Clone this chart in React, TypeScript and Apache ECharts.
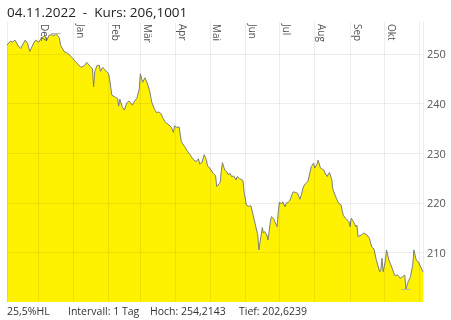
import React, { useEffect, useRef } from "react";
import * as echarts from "echarts";

const titleText = "04.11.2022  -  Kurs: 206,1001";
const footerTexts = ["25,5%HL", "Intervall: 1 Tag", "Hoch: 254,2143", "Tief: 202,6239"];
const monthNames = ["Jan", "Feb", "Mär", "Apr", "Mai", "Jun", "Jul", "Aug", "Sep", "Okt", "Nov", "Dez"];
const yTicks = [210, 220, 230, 240, 250];

const dates = [
  "2021-11-04", "2021-11-07", "2021-11-09", "2021-11-11", "2021-11-14", "2021-11-16", "2021-11-18", "2021-11-20",
  "2021-11-22", "2021-11-24", "2021-11-27", "2021-11-29", "2021-12-02", "2021-12-04", "2021-12-06", "2021-12-07",
  "2021-12-09", "2021-12-11", "2021-12-14", "2021-12-15", "2021-12-17", "2021-12-18", "2021-12-20", "2021-12-21",
  "2021-12-24", "2021-12-26", "2021-12-28", "2021-12-31", "2022-01-03", "2022-01-05", "2022-01-08", "2022-01-11",
  "2022-01-13", "2022-01-16", "2022-01-18", "2022-01-19", "2022-01-20", "2022-01-22", "2022-01-24", "2022-01-25",
  "2022-01-27", "2022-01-29", "2022-02-01", "2022-02-02", "2022-02-04", "2022-02-07", "2022-02-09", "2022-02-10",
  "2022-02-11", "2022-02-13", "2022-02-15", "2022-02-17", "2022-02-19", "2022-02-20", "2022-02-22", "2022-02-24",
  "2022-02-26", "2022-02-28", "2022-03-01", "2022-03-03", "2022-03-05", "2022-03-07", "2022-03-09", "2022-03-11",
  "2022-03-13", "2022-03-15", "2022-03-17", "2022-03-19", "2022-03-21", "2022-03-23", "2022-03-25", "2022-03-28",
  "2022-03-30", "2022-03-31", "2022-04-02", "2022-04-04", "2022-04-06", "2022-04-09", "2022-04-11", "2022-04-13",
  "2022-04-15", "2022-04-17", "2022-04-19", "2022-04-21", "2022-04-22", "2022-04-24", "2022-04-26", "2022-04-28",
  "2022-04-29", "2022-05-01", "2022-05-04", "2022-05-06", "2022-05-07", "2022-05-09", "2022-05-10", "2022-05-11",
  "2022-05-12", "2022-05-14", "2022-05-16", "2022-05-17", "2022-05-19", "2022-05-20", "2022-05-22", "2022-05-24",
  "2022-05-25", "2022-05-27", "2022-05-30", "2022-05-31", "2022-06-02", "2022-06-04", "2022-06-06", "2022-06-08",
  "2022-06-10", "2022-06-12", "2022-06-13", "2022-06-16", "2022-06-17", "2022-06-18", "2022-06-20", "2022-06-21",
  "2022-06-23", "2022-06-24", "2022-06-26", "2022-06-27", "2022-06-29", "2022-06-30", "2022-07-01", "2022-07-03",
  "2022-07-04", "2022-07-06", "2022-07-07", "2022-07-09", "2022-07-10", "2022-07-13", "2022-07-15", "2022-07-17",
  "2022-07-19", "2022-07-20", "2022-07-22", "2022-07-24", "2022-07-26", "2022-07-29", "2022-07-31", "2022-08-01",
  "2022-08-03", "2022-08-04", "2022-08-06", "2022-08-07", "2022-08-09", "2022-08-10", "2022-08-12", "2022-08-13",
  "2022-08-14", "2022-08-16", "2022-08-17", "2022-08-20", "2022-08-22", "2022-08-24", "2022-08-26", "2022-08-28",
  "2022-08-31", "2022-09-01", "2022-09-02", "2022-09-04", "2022-09-06", "2022-09-07", "2022-09-08", "2022-09-11",
  "2022-09-13", "2022-09-16", "2022-09-18", "2022-09-20", "2022-09-22", "2022-09-24", "2022-09-27", "2022-09-28",
  "2022-09-29", "2022-09-30", "2022-10-02", "2022-10-03", "2022-10-05", "2022-10-08", "2022-10-10", "2022-10-13",
  "2022-10-15", "2022-10-17", "2022-10-19", "2022-10-20", "2022-10-22", "2022-10-24", "2022-10-26", "2022-10-27",
  "2022-10-29", "2022-10-31", "2022-11-01", "2022-11-04"
];

const prices = [
  251.8, 252.6, 252.4, 252.8, 251.6, 251.1, 252.0, 252.8,
  252.2, 250.5, 252.0, 252.8, 252.4, 253.2, 253.5, 253.7,
  252.8, 253.8, 253.9, 253.6, 254.2143, 253.8, 253.2, 251.8,
  250.5, 250.3, 250.0, 249.3, 248.5, 248.0, 247.3, 247.7,
  248.3, 247.5, 247.0, 243.4, 246.4, 247.7, 247.7, 246.5,
  247.3, 246.8, 246.1, 245.0, 241.7, 241.3, 241.0, 239.5,
  240.9, 239.4, 238.7, 240.1, 240.5, 240.3, 239.7, 240.5,
  241.1, 242.9, 246.0, 244.3, 245.2, 244.2, 242.7, 240.3,
  239.1, 238.2, 238.3, 238.0, 237.0, 236.2, 235.9, 235.3,
  234.2, 235.5, 235.2, 235.3, 232.3, 231.3, 230.5, 229.9,
  229.2, 228.6, 228.3, 228.9, 227.8, 228.1, 229.7, 228.6,
  227.4, 227.0, 225.9, 225.5, 223.3, 223.8, 224.1, 226.3,
  228.1, 226.6, 226.2, 225.7, 225.9, 225.3, 225.4, 224.6,
  225.3, 224.9, 224.5, 222.2, 219.6, 219.3, 219.4, 217.5,
  215.5, 213.5, 210.5, 215.0, 213.9, 214.2, 213.5, 212.5,
  216.1, 217.2, 216.8, 216.2, 215.2, 218.2, 220.1, 219.8,
  220.2, 219.2, 219.9, 220.2, 220.4, 222.2, 222.1, 221.9,
  220.7, 221.4, 223.2, 223.9, 224.3, 227.3, 228.0, 227.0,
  227.8, 228.6, 227.0, 226.9, 226.6, 226.0, 225.3, 225.8,
  226.1, 224.6, 222.6, 220.9, 219.9, 219.6, 217.5, 216.9,
  216.2, 215.2, 216.9, 216.2, 215.2, 215.5, 213.2, 213.5,
  213.9, 213.5, 212.8, 211.1, 210.7, 208.5, 206.1, 206.5,
  208.8, 206.1, 208.3, 210.5, 208.5, 206.8, 205.4, 205.4,
  204.8, 205.1, 205.4, 202.6239, 204.1, 205.1, 207.5, 210.5,
  208.5, 208.1, 207.5, 206.1001
];

const xMin = "2021-11-04";
const xMax = "2022-11-04";
const yMin = 200;
const yMax = 256.45;

export default function App() {
  const ref = useRef<HTMLDivElement>(null);

  useEffect(() => {
    if (!ref.current) return;
    const chart = echarts.init(ref.current, undefined, { renderer: "svg" });
    const data = dates.map((d, i) => [d, prices[i]]);
    const DAY = 86400000;
    const lowIdx = prices.indexOf(Math.min(...prices));
    const highIdx = prices.indexOf(Math.max(...prices));
    const seg = (idx: number) => {
      const t = echarts.time.parse(dates[idx]).getTime();
      return [
        { coord: [t - 4 * DAY, prices[idx]] },
        { coord: [t + 4 * DAY, prices[idx]] },
      ];
    };
    const gridColor = "rgba(0,0,0,0.07)";
    const font = "'Open Sans', 'Noto Sans', sans-serif";
    const footerX = [7, 68, 150, 239];

    chart.setOption({
      animation: false,
      grid: { left: 7, right: 28, top: 22, bottom: 18, containLabel: false },
      xAxis: {
        type: "time",
        position: "top",
        min: xMin,
        max: xMax,
        z: 5,
        splitNumber: 12,
        maxInterval: 31 * DAY,
        minInterval: 28 * DAY,
        axisLine: { show: false },
        axisTick: { show: false },
        splitLine: { show: true, lineStyle: { color: gridColor, width: 1 } },
        axisLabel: {
          inside: true,
          rotate: 90,
          color: "#555",
          fontSize: 10,
          fontFamily: font,
          margin: 2,
          padding: [0, 0, 15, 0],
          hideOverlap: false,
          showMinLabel: false,
          showMaxLabel: false,
          formatter: (val: number) => {
            const d = new Date(val);
            if (d.getDate() !== 1) return "";
            if (d.getFullYear() === 2022 && d.getMonth() >= 10) return "";
            return monthNames[d.getMonth()];
          },
        },
      },
      yAxis: {
        type: "value",
        position: "right",
        min: yMin,
        max: yMax,
        interval: 10,
        z: 5,
        axisLine: { show: false },
        axisTick: { show: false },
        splitLine: {
          show: true,
          lineStyle: { color: ["transparent", gridColor, gridColor, gridColor, gridColor, gridColor, "transparent"] },
        },
        axisLabel: {
          color: "#555",
          fontSize: 11,
          fontFamily: font,
          margin: 4,
          showMinLabel: false,
          showMaxLabel: false,
          formatter: (v: number) => (yTicks.includes(v) ? String(v) : ""),
        },
      },
      series: [
        {
          type: "line",
          data,
          showSymbol: false,
          symbol: "none",
          lineStyle: { color: "#7d7d7d", width: 1 },
          areaStyle: { color: "#FFF200", opacity: 1 },
          markLine: {
            silent: true,
            symbol: "none",
            label: { show: false },
            lineStyle: { color: "#b5b5b5", type: "solid", width: 1 },
            data: [seg(lowIdx), seg(highIdx)],
          },
        },
      ],
      graphic: [
        {
          type: "text",
          left: 7,
          top: 5,
          style: { text: titleText, fontSize: 13.5, fontFamily: font, fill: "#222" },
        },
        ...footerTexts.map((t, i) => ({
          type: "text",
          left: footerX[i],
          top: 305,
          style: { text: t, fontSize: 10.5, fontFamily: font, fill: "#333" },
        })),
      ],
    });
    return () => chart.dispose();
  }, []);

  return <div ref={ref} style={{ position: "fixed", left: 0, top: 0, width: 451, height: 320 }} />;
}
